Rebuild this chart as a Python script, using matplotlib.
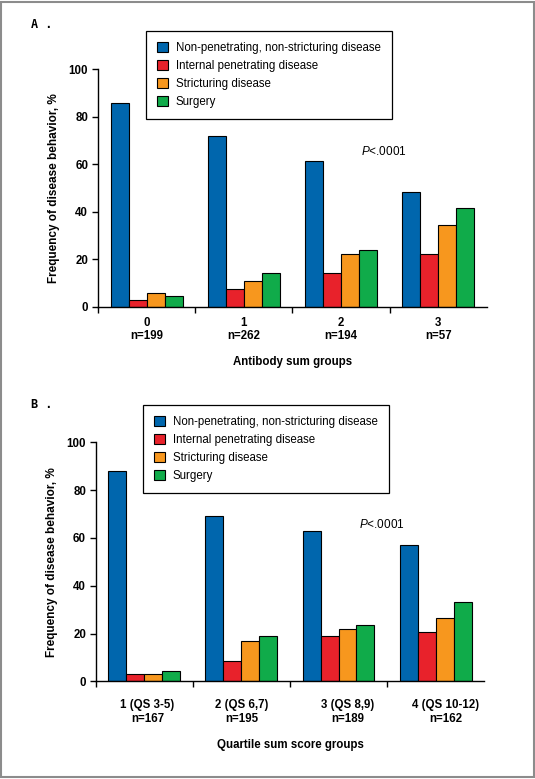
import numpy as np
import matplotlib
matplotlib.use('Agg')
import matplotlib.pyplot as plt
import matplotlib.transforms as mtransforms
from matplotlib.patches import Rectangle, Patch

plt.rcParams['font.family'] = ['Liberation Sans', 'DejaVu Sans']
plt.rcParams['mathtext.fontset'] = 'custom'
plt.rcParams['mathtext.it'] = 'Liberation Sans:italic'
plt.rcParams['mathtext.rm'] = 'Liberation Sans'

series_names = ['Non-penetrating, non-stricturing disease',
                'Internal penetrating disease',
                'Stricturing disease',
                'Surgery']
colors = ['#0066ad', '#e8222b', '#f7971e', '#10ab4a']

# panel A
groups_a = ['0\nn=199', '1\nn=262', '2\nn=194', '3\nn=57']
nonpen_a = [86, 72, 61.6, 48.2]
internal_a = [2.8, 7.4, 14.1, 22.1]
strict_a = [5.8, 10.8, 22.1, 34.3]
surgery_a = [4.6, 14.1, 23.8, 41.5]

# panel B
groups_b = ['1 (QS 3-5)\nn=167', '2 (QS 6,7)\nn=195', '3 (QS 8,9)\nn=189', '4 (QS 10-12)\nn=162']
nonpen_b = [87.9, 69.0, 62.8, 56.9]
internal_b = [2.9, 8.4, 18.8, 20.5]
strict_b = [2.9, 16.7, 21.8, 26.4]
surgery_b = [4.2, 18.8, 23.4, 33.1]

yticks = [0, 20, 40, 60, 80, 100]
fs = 8.3


def draw_panel(ax, groups, values, xlabel, legend_anchor, label_pad, label_shift):
    x = np.arange(len(groups))
    w = 0.185
    for i, vals in enumerate(values):
        ax.bar(x + (i - 1.5) * w, vals, w, color=colors[i],
               edgecolor='black', linewidth=0.8, zorder=2)

    ax.set_xlim(-0.5, len(groups) - 0.5)
    ax.set_ylim(0, 100)
    ax.spines['top'].set_visible(False)
    ax.spines['right'].set_visible(False)
    ax.spines['left'].set_linewidth(1.0)
    ax.spines['bottom'].set_linewidth(1.0)

    ax.set_yticks(yticks)
    ax.set_yticklabels([str(t) for t in yticks], fontsize=fs, fontweight='bold')
    ax.tick_params(axis='y', direction='out', length=4, width=1, pad=3)

    # group labels at centres, tick marks between groups
    ax.set_xticks(x)
    ax.set_xticklabels(groups, fontsize=fs, fontweight='bold', linespacing=1.15)
    ax.tick_params(axis='x', which='major', length=0, pad=label_pad)
    for lab, dx in zip(ax.get_xticklabels(), label_shift):
        lab.set_transform(lab.get_transform() +
                          mtransforms.ScaledTranslation(dx / 100, 0, fig.dpi_scale_trans))
    ax.set_xticks(np.arange(-0.5, len(groups) - 0.5, 1), minor=True)
    ax.tick_params(axis='x', which='minor', direction='out', length=4, width=1)

    ax.set_ylabel('Frequency of disease behavior, %', fontsize=fs + 0.2, fontweight='bold', labelpad=6)
    ax.set_xlabel(xlabel, fontsize=fs, fontweight='bold', labelpad=10)

    ax.text(2.21, 65.5, r'$\it{P}$<.0001', fontsize=8.5, va='center', ha='left')

    handles = [Patch(facecolor=c, edgecolor='black', linewidth=0.8) for c in colors]
    leg = ax.legend(handles, series_names, loc='upper left', bbox_to_anchor=legend_anchor,
                    bbox_transform=fig.transFigure, fontsize=fs, frameon=True,
                    fancybox=False, edgecolor='black', framealpha=1,
                    handlelength=0.95, handleheight=0.95, handletextpad=0.7,
                    labelspacing=0.52, borderpad=0.95, borderaxespad=0)
    leg.get_frame().set_linewidth(0.9)


fig = plt.figure(figsize=(5.35, 7.79), dpi=100)
ax_a = fig.add_axes([0.183, 0.606, 0.727, 0.305])
ax_b = fig.add_axes([0.179, 0.1254, 0.726, 0.3068])

draw_panel(ax_a, groups_a, [nonpen_a, internal_a, strict_a, surgery_a],
           'Antibody sum groups', (146 / 535, 1 - 31 / 779), 7, [0, 0, 0, 0])
draw_panel(ax_b, groups_b, [nonpen_b, internal_b, strict_b, surgery_b],
           'Quartile sum score groups', (143 / 535, 1 - 405 / 779), 13, [3, 0, 9, 10])

fig.text(31 / 535, 1 - 25 / 779, 'A .', fontsize=8.5, fontweight='bold',
         family='DejaVu Sans Mono', va='center')
fig.text(31 / 535, 1 - 405 / 779, 'B .', fontsize=8.5, fontweight='bold',
         family='DejaVu Sans Mono', va='center')

# grey frame round the whole figure
fig.patches.append(Rectangle((0.002, 0.002), 0.996, 0.996, transform=fig.transFigure,
                             fill=False, edgecolor='#8c8c8c', linewidth=1.5))

fig.savefig('out.png', dpi=100)
